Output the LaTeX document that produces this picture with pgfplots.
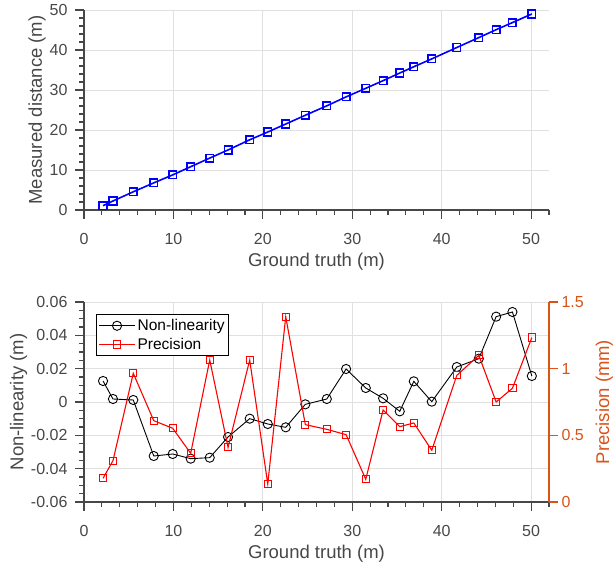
\documentclass[border=0pt]{standalone}
\usepackage{fontspec}
\setmainfont{Liberation Sans}
\usepackage{pgfplots}
\usepackage{pgfplotstable}
\pgfplotsset{compat=1.18}

\definecolor{axgray}{gray}{0.28}
\definecolor{gridgray}{gray}{0.88}
\definecolor{mlorange}{rgb}{0.85,0.325,0.098}
\definecolor{mlblue}{rgb}{0,0,1}
\definecolor{mlred}{rgb}{1,0,0}

\pgfplotstableread{
x meas nonlin prec
2.13 1.08 0.0126 0.178
3.24 2.25 0.0018 0.310
5.51 4.55 0.0012 0.965
7.80 6.78 -0.0324 0.610
9.92 8.78 -0.0312 0.553
11.93 10.82 -0.0340 0.365
14.06 12.98 -0.0334 1.065
16.11 15.01 -0.0210 0.410
18.53 17.55 -0.0100 1.065
20.55 19.49 -0.0132 0.135
22.56 21.49 -0.0152 1.390
24.75 23.69 -0.0014 0.580
27.15 26.04 0.0018 0.545
29.31 28.28 0.0198 0.505
31.51 30.42 0.0084 0.170
33.45 32.34 0.0022 0.690
35.31 34.24 -0.0056 0.565
36.88 35.81 0.0124 0.593
38.89 37.78 0.0002 0.388
41.69 40.62 0.0210 0.950
44.15 43.10 0.0260 1.100
46.09 45.08 0.0512 0.750
47.91 46.85 0.0540 0.853
50.08 49.01 0.0156 1.233
}\datatable

\pgfplotsset{
  mystyle/.style={
    scale only axis, width=465pt, height=200pt,
    xmin=0, xmax=52,
    axis line style={axgray, line width=1.1pt},
    tick style={axgray, line width=1.1pt},
    tick align=outside,
    major tick length=9pt, minor tick length=5pt,
    ticklabel style={font=\fontsize{16}{18}\selectfont, text=axgray},
    label style={font=\fontsize{18.5}{21}\selectfont, text=axgray},
    /pgf/number format/assume math mode=true,
    scaled ticks=false,
  },
  gridstyle/.style={
    grid=major, major grid style={gridgray, line width=0.7pt},
    xtick={0,10,20,30,40,50},
    minor xtick={0,2,...,52},
    xticklabel style={yshift=-11pt},
    yticklabel style={xshift=-4pt},
    ylabel shift=-3pt,
    xlabel style={at={(axis description cs:0.5,0)}, anchor=center, yshift=-52pt},
  }
}

\begin{document}
\begin{tikzpicture}
\useasboundingbox (0,0) rectangle (613pt,570pt);

% Top axis
\begin{axis}[mystyle, gridstyle,
  at={(84pt,360pt)}, anchor=south west,
  axis x line*=bottom, axis y line*=left,
  ymin=0, ymax=50,
  ytick={0,10,20,30,40,50},
  minor ytick={0,2,...,50},
  xlabel={Ground truth (m)},
  ylabel={Measured distance (m)},
]
\addplot[mlblue, line width=1.6pt, mark=square, mark size=3.8pt,
  mark options={line width=1.5pt, solid}] table[x=x, y=meas] {\datatable};
\end{axis}

% Bottom left axis
\begin{axis}[mystyle, gridstyle,
  at={(84pt,68pt)}, anchor=south west,
  axis x line*=bottom, axis y line*=left,
  ymin=-0.06, ymax=0.06,
  ytick={-0.06,-0.04,-0.02,0,0.02,0.04,0.06},
  yticklabels={-0.06,-0.04,-0.02,0,0.02,0.04,0.06},
  minor ytick={-0.06,-0.055,-0.05,-0.045,-0.04,-0.035,-0.03,-0.025,-0.02,-0.015,-0.01,-0.005,0,0.005,0.01,0.015,0.02,0.025,0.03,0.035,0.04,0.045,0.05,0.055,0.06},
  xlabel={Ground truth (m)},
  ylabel={Non-linearity (m)},
]
\addplot[black, line width=0.9pt, mark=o, mark size=4.6pt,
  mark options={line width=0.9pt, solid}] table[x=x, y=nonlin] {\datatable};
\end{axis}

% Bottom right axis
\begin{axis}[mystyle,
  at={(84pt,68pt)}, anchor=south west,
  axis x line=none, axis y line*=right,
  axis line style={mlorange, line width=1.1pt},
  y tick style={mlorange, line width=1.1pt},
  yticklabel style={text=mlorange},
  ylabel style={text=mlorange},
  ylabel shift=5pt,
  ymin=0, ymax=1.5,
  ytick={0,0.5,1,1.5},
  yticklabels={0,0.5,1,1.5},
  minor ytick={},
  ylabel={Precision (mm)},
  legend style={at={(0.026,0.94)}, anchor=north west,
    draw=black, line width=0.8pt, fill=white,
    font=\fontsize{15.5}{17}\selectfont, text=black,
    inner xsep=2pt, inner ysep=3pt, row sep=2pt,
    nodes={inner sep=2pt}},
  legend cell align=left,
  legend image code/.code={
    \draw[mark repeat=2, mark phase=2, #1] plot coordinates {(0pt,0pt) (18pt,0pt) (36pt,0pt)};
  },
]
\addlegendimage{black, line width=0.9pt, mark=o, mark size=4.6pt, mark options={line width=0.9pt, solid}}
\addlegendentry{Non-linearity}
\addplot[mlred, line width=1.1pt, mark=square, mark size=3.6pt,
  mark options={line width=1.0pt, solid}] table[x=x, y=prec] {\datatable};
\addlegendentry{Precision}
\end{axis}
\end{tikzpicture}
\end{document}
